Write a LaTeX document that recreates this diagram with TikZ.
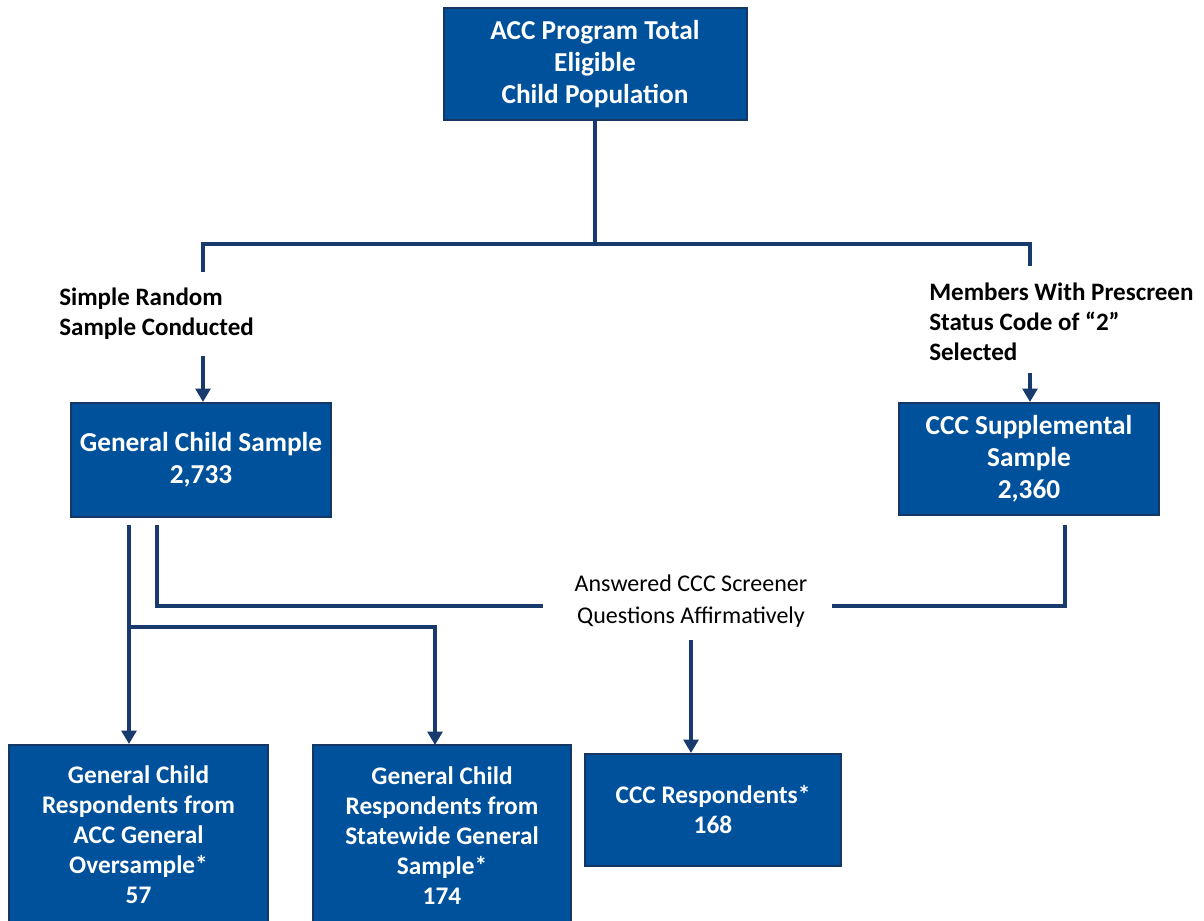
\documentclass[tikz,border=0pt]{standalone}
\usepackage{fontspec}
\setmainfont{Carlito}
\usetikzlibrary{arrows.meta}
\definecolor{boxblue}{RGB}{0,81,155}
\definecolor{boxedge}{RGB}{22,54,100}
\definecolor{linenavy}{RGB}{24,58,108}
\begin{document}
\begin{tikzpicture}[x=0.75pt,y=-0.75pt,
  bluebox/.style={draw=boxedge,line width=1.5pt,fill=boxblue,text=white,font=\bfseries\fontsize{20.5}{24}\selectfont,align=center,inner sep=0pt,minimum width=#1},
  lowbox/.style={draw=boxedge,line width=1.5pt,fill=boxblue,text=white,font=\bfseries\fontsize{19}{22.5}\selectfont,align=center,inner sep=0pt},
  lbl/.style={font=\bfseries\fontsize{18.8}{22.5}\selectfont,align=left,inner sep=0pt,anchor=west},
  conn/.style={draw=linenavy,line width=2.8pt},
  arr/.style={conn,-{Triangle[length=10pt,width=11pt]}}]
\useasboundingbox (0,0) rectangle (1204,921);
\clip (0,0) rectangle (1204,921);
% boxes
\node[bluebox=227.25pt,minimum height=84pt] (top) at (595,64) {ACC Program Total\\Eligible\\Child Population};
\node[bluebox=195pt,minimum height=85.5pt] (gcs) at (201,460) {General Child Sample\\2,733};
\node[bluebox=195pt,minimum height=84pt] (ccs) at (1029,459) {CCC Supplemental\\Sample\\2,360};
\node[lowbox,minimum width=194.25pt,minimum height=135pt] (b1) at (138.5,835) {General Child\\Respondents from\\ACC General\\Oversample*\\57};
\node[lowbox,minimum width=193.5pt,minimum height=136.5pt] (b2) at (442,836) {General Child\\Respondents from\\Statewide General\\Sample*\\174};
\node[lowbox,minimum width=192pt,minimum height=84pt] (b3) at (713,810) {CCC Respondents*\\168};
% labels
\node[lbl] (l1) at (59,314) {Simple Random\\Sample Conducted};
\node[lbl] (l2) at (929,321.5) {Members With Prescreen\\Status Code of “2”\\Selected};
\node[font=\fontsize{18}{24}\selectfont,align=center,inner sep=0pt] (l3) at (691,601) {Answered CCC Screener\\Questions Affirmatively};
% coordinates
\coordinate (j0) at (595,244);
\coordinate (jl) at (203,244);
\coordinate (jr) at (1030,244);
\coordinate (sL) at (203,272);
\coordinate (sR) at (1030,266);
\coordinate (aL) at (203,356);
\coordinate (aR) at (1030,373);
\coordinate (g1) at (129,525);
\coordinate (g2) at (157,525);
\coordinate (ansL) at (543,606);
\coordinate (ansR) at (832,606);
\coordinate (c1) at (1065,525);
\coordinate (br) at (129,627);
\coordinate (b2in) at (435,745);
\coordinate (a3) at (691,640);
% connectors
\draw[conn] (top.south) -- (top.south |- j0);
\draw[conn] (sL) -- (jl) -- (jr) -- (sR);
\draw[arr] (aL) -- (aL |- gcs.north);
\draw[arr] (aR) -- (aR |- ccs.north);
\draw[arr] (g1) -- (g1 |- b1.north);
\draw[conn] (g2) |- (ansL);
\draw[conn] (c1) |- (ansR);
\draw[arr] (br) -| (b2in);
\draw[arr] (a3) -- (a3 |- b3.north);
\end{tikzpicture}
\end{document}
